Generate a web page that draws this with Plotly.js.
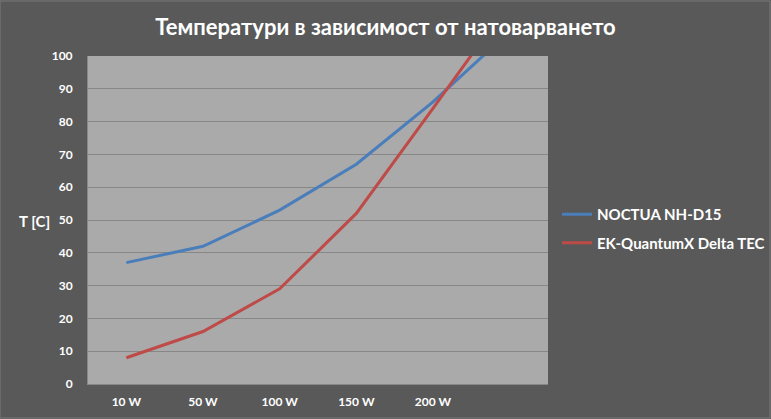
<!DOCTYPE html>
<html><head><meta charset="utf-8">
<script src="https://cdn.plot.ly/plotly-3.0.1.min.js"></script>
<style>html,body{margin:0;padding:0;background:#595959;}#chart{width:771px;height:419px;}</style>
</head><body><div id="chart"></div>
<script>
const categories = ['10 W', '50 W', '100 W', '150 W', '200 W', ''];
const noctua = [37, 42, 53, 67, 86, 107.5];
const ekQuantum = [8, 16, 29, 52, 84, 116.5];
const seriesNames = ['NOCTUA NH-D15', 'EK-QuantumX Delta TEC'];
const yTicks = [0, 10, 20, 30, 40, 50, 60, 70, 80, 90, 100];

const xIdx = categories.map((c, i) => i);
const FONT = 'Lato, "Open Sans", "DejaVu Sans", sans-serif';

const traces = [
  {x: xIdx, y: noctua, name: '<b>' + seriesNames[0] + '</b>', type: 'scatter', mode: 'lines',
   line: {color: '#4a7ebb', width: 3}, legendgroup: 'a'},
  {x: xIdx, y: ekQuantum, name: '<b>' + seriesNames[1] + '</b>', type: 'scatter', mode: 'lines',
   line: {color: '#be4b48', width: 3}, legendgroup: 'b'}
];

const layout = {
  width: 771, height: 419,
  paper_bgcolor: '#595959', plot_bgcolor: '#aaaaaa',
  margin: {l: 88, r: 223, t: 56, b: 35, autoexpand: false},
  font: {family: FONT, color: '#ffffff'},
  title: {text: '<b>Температури в зависимост от натоварването</b>',
          font: {size: 22, color: '#ffffff', family: FONT},
          x: 0.5, xanchor: 'center', y: 0.935, yanchor: 'middle'},
  xaxis: {range: [-0.5, 5.5], tickvals: xIdx, ticktext: categories.map(c => '<b>' + c + '</b>'),
          showgrid: false, zeroline: false, showline: true, linecolor: '#868686', linewidth: 1,
          ticks: '', tickfont: {size: 12, color: '#ffffff'}, ticklabelstandoff: 7, fixedrange: true,
          automargin: false},
  yaxis: {range: [0, 100], tickvals: yTicks, ticktext: yTicks.map(v => '<b>' + v + '</b>'),
          showgrid: true, gridcolor: '#878787', gridwidth: 1, zeroline: false,
          showline: true, linecolor: '#868686', linewidth: 1,
          ticks: '', tickfont: {size: 12, color: '#ffffff'}, ticklabelstandoff: 12, fixedrange: true,
          automargin: false},
  showlegend: true,
  legend: {xref: 'container', yref: 'container', x: 557/771, xanchor: 'left', y: 1 - 228.5/419, yanchor: 'middle',
           bgcolor: 'rgba(0,0,0,0)',
           font: {size: 15, color: '#ffffff', family: FONT}, tracegroupgap: 6, itemwidth: 30},
  annotations: [{text: '<b>T [C]</b>', xref: 'paper', yref: 'paper', x: -0.117, y: 0.497,
                 xanchor: 'center', yanchor: 'middle', showarrow: false,
                 font: {size: 15, color: '#ffffff', family: FONT}}],
  shapes: [{type: 'rect', xref: 'paper', yref: 'paper', x0: -88/460, x1: 1 + 222/460,
            y0: -34/328, y1: 1 + 55/328, line: {color: '#7a7a7a', width: 1}, fillcolor: 'rgba(0,0,0,0)', layer: 'below'}]
};

Plotly.newPlot('chart', traces, layout, {displayModeBar: false, staticPlot: true});
</script></body></html>
